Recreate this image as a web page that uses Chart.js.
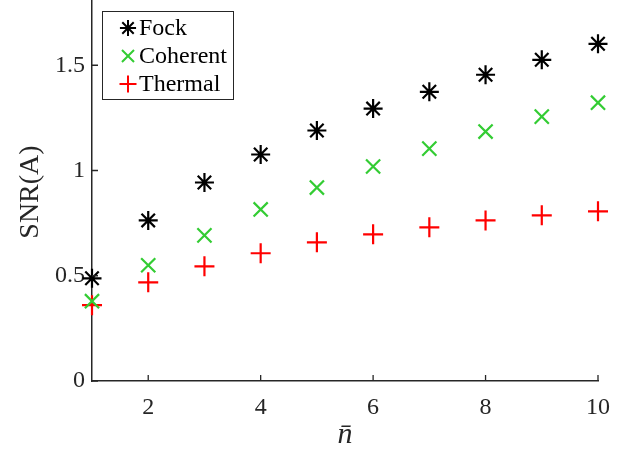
<!DOCTYPE html>
<html>
<head>
<meta charset="utf-8">
<script src="https://cdn.jsdelivr.net/npm/chart.js@4/dist/chart.umd.min.js"></script>
<style>
  html, body { margin: 0; padding: 0; background: #fff; }
  #wrap { width: 625px; height: 451px; position: relative; }
</style>
</head>
<body>
<div id="wrap"><canvas id="chart"></canvas></div>
<script>
// Data
const nBar = [1, 2, 3, 4, 5, 6, 7, 8, 9, 10];
const fockSNR = [0.488, 0.763, 0.943, 1.076, 1.19, 1.294, 1.374, 1.455, 1.526, 1.602];
const coherentSNR = [0.379, 0.55, 0.692, 0.815, 0.919, 1.019, 1.104, 1.185, 1.256, 1.322];
const thermalSNR = [0.36, 0.469, 0.545, 0.607, 0.659, 0.697, 0.73, 0.763, 0.787, 0.806];
const xTicks = [2, 4, 6, 8, 10];
const yTicks = [0, 0.5, 1, 1.5];

const serif = "'Liberation Serif', 'DejaVu Serif', serif";
const axisColor = '#262626';

const toPoints = ys => nBar.map((x, i) => ({ x: x, y: ys[i] }));

const series = [
    { label: 'Fock', data: fockSNR, color: '#000000', style: 'star', r: 9.5 },
    { label: 'Coherent', data: coherentSNR, color: '#33cc33', style: 'crossRot', r: 10 },
    { label: 'Thermal', data: thermalSNR, color: '#ff0000', style: 'cross', r: 10 }
];

// Inward tick marks, MATLAB style
const tickMarks = {
    id: 'tickMarks',
    afterDraw(chart) {
        const ctx = chart.ctx;
        const xs = chart.scales.x, ys = chart.scales.y;
        const area = chart.chartArea;
        ctx.save();
        ctx.strokeStyle = axisColor;
        ctx.lineWidth = 1.3;
        ctx.beginPath();
        xTicks.forEach(v => {
            const px = xs.getPixelForValue(v);
            ctx.moveTo(px, area.bottom);
            ctx.lineTo(px, area.bottom - 6);
        });
        yTicks.forEach(v => {
            const py = ys.getPixelForValue(v);
            ctx.moveTo(area.left, py);
            ctx.lineTo(area.left + 6, py);
        });
        ctx.stroke();
        ctx.restore();
    }
};

// Legend box inside the axes, top left
const insideLegend = {
    id: 'insideLegend',
    afterDraw(chart) {
        const ctx = chart.ctx;
        const box = { left: 102.5, top: 11.5, width: 131, height: 88 };
        ctx.save();
        ctx.fillStyle = '#fff';
        ctx.fillRect(box.left, box.top, box.width, box.height);
        ctx.strokeStyle = axisColor;
        ctx.lineWidth = 1;
        ctx.strokeRect(box.left, box.top, box.width, box.height);
        ctx.font = '24px ' + serif;
        ctx.textBaseline = 'middle';
        series.forEach((s, i) => {
            const cy = 28 + i * 28;
            ctx.strokeStyle = s.color;
            ctx.lineWidth = 2;
            Chart.helpers.drawPoint(ctx, { pointStyle: s.style, radius: s.r * 0.85, rotation: 0, borderWidth: 2 }, 128, cy);
            ctx.fillStyle = '#000';
            ctx.fillText(s.label, 139, cy + 1);
        });
        ctx.restore();
    }
};

const axisTitles = {
    id: 'axisTitles',
    afterDraw(chart) {
        const ctx = chart.ctx;
        ctx.save();
        ctx.fillStyle = '#262626';
        ctx.textAlign = 'center';
        ctx.textBaseline = 'middle';
        ctx.font = '28px ' + serif;
        ctx.translate(31, 192);
        ctx.rotate(-Math.PI / 2);
        ctx.fillText('SNR(A)', 0, 0);
        ctx.restore();
        ctx.save();
        ctx.fillStyle = '#262626';
        ctx.textAlign = 'center';
        ctx.textBaseline = 'middle';
        ctx.font = 'italic 30px ' + serif;
        ctx.fillText('n\u0304', 345, 435);
        ctx.restore();
    }
};

new Chart(document.getElementById('chart'), {
    type: 'scatter',
    data: {
        datasets: series.map(s => ({
            label: s.label,
            data: toPoints(s.data),
            pointStyle: s.style,
            pointRadius: s.r,
            pointHoverRadius: s.r,
            borderColor: s.color,
            backgroundColor: s.color,
            pointBorderWidth: 2.2,
            clip: false
        }))
    },
    options: {
        responsive: true,
        maintainAspectRatio: false,
        animation: false,
        events: [],
        layout: { autoPadding: false, padding: { top: 0, right: 27, left: 0, bottom: 0 } },
        plugins: {
            legend: { display: false },
            tooltip: { enabled: false }
        },
        scales: {
            x: {
                type: 'linear',
                min: 1,
                max: 10,
                afterBuildTicks: scale => { scale.ticks = xTicks.map(v => ({ value: v })); },
                afterFit: scale => { scale.height = 70; scale.paddingLeft = 0; scale.paddingRight = 0; },
                grid: { display: false, drawTicks: false },
                border: { display: true, color: axisColor, width: 1.5 },
                ticks: {
                    color: '#262626',
                    font: { family: serif, size: 24 },
                    padding: 12,
                    maxRotation: 0
                }
            },
            y: {
                type: 'linear',
                min: 0,
                max: 1.81,
                afterBuildTicks: scale => { scale.ticks = yTicks.map(v => ({ value: v })); },
                afterFit: scale => { scale.width = 92; scale.paddingTop = 0; scale.paddingBottom = 0; },
                grid: { display: false, drawTicks: false },
                border: { display: true, color: axisColor, width: 1.5 },
                ticks: {
                    color: '#262626',
                    font: { family: serif, size: 24 },
                    padding: 7,
                    callback: v => String(v)
                }
            }
        }
    },
    plugins: [tickMarks, insideLegend, axisTitles]
});
</script>
</body>
</html>
